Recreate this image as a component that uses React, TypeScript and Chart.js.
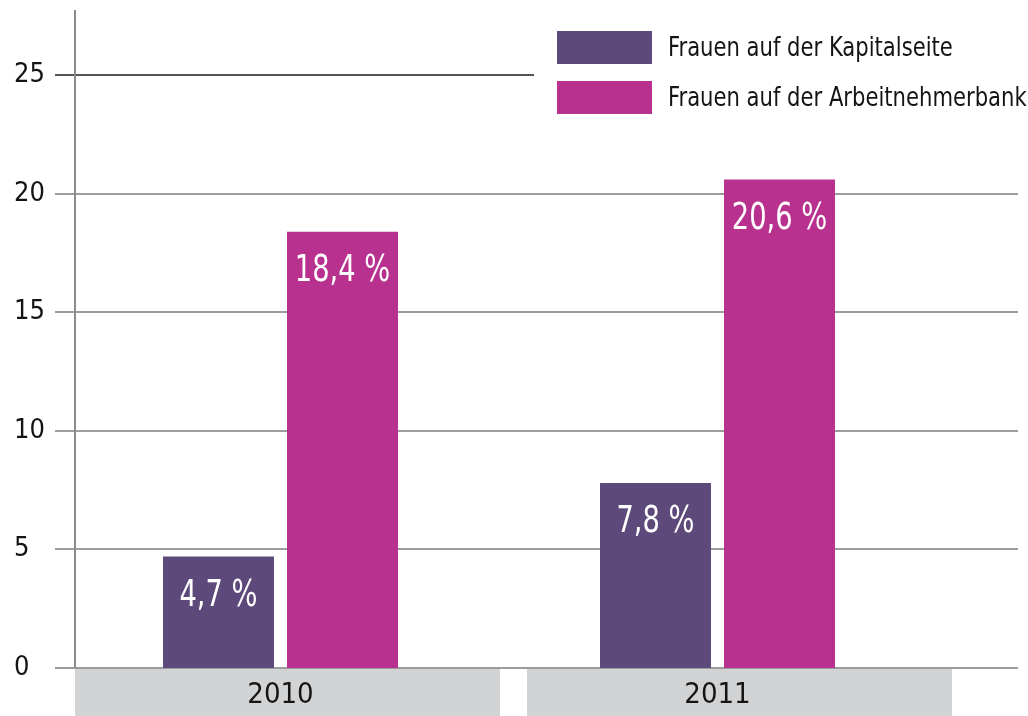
import { useEffect, useRef } from 'react';
import { Chart, registerables } from 'chart.js';

Chart.register(...registerables);

// ---- data ----
const categories = ['2010', '2011'];
const seriesNames = ['Frauen auf der Kapitalseite', 'Frauen auf der Arbeitnehmerbank'];
const kapitalseite = [4.7, 7.8];
const arbeitnehmerbank = [18.4, 20.6];
const yTickValues = [0, 5, 10, 15, 20, 25];

// ---- style ----
const seriesColors = ['#5e4a7a', '#b8318f'];
const FONT = "'Liberation Sans Narrow', 'DejaVu Sans Condensed', 'Roboto Condensed', Roboto, sans-serif";
const TEXT = '#141414';
const W = 1028;
const H = 716;
const AXIS_X = 75;
const GRID_LEFT = 55;
const GRID_RIGHT = 1018;
const BAND_LEFT = 75;
const BAND_RIGHT = 952;
const BAND_GAP = 27;
const LEGEND_X = 557;
const LEGEND_Y = 31;
const LEGEND_BOX_W = 95;
const LEGEND_BOX_H = 33;
const LEGEND_ROW = 50;
const LEGEND_TEXT_X = 668;
const CONDENSE = 0.87;

const fmt = (v: number) => v.toFixed(1).replace('.', ',') + ' %';

function condensedText(ctx: CanvasRenderingContext2D, text: string, x: number, y: number, k: number) {
  ctx.save();
  ctx.translate(x, y);
  ctx.scale(k, 1);
  ctx.fillText(text, 0, 0);
  ctx.restore();
}

const decorPlugin = {
  id: 'decor',
  beforeDraw(chart: any) {
    const { ctx, chartArea, scales } = chart;
    const y = scales.y;
    ctx.save();
    // category bands
    const n = categories.length;
    const bw = (BAND_RIGHT - BAND_LEFT - BAND_GAP * (n - 1)) / n;
    ctx.fillStyle = '#d2d3d5';
    for (let i = 0; i < n; i++) {
      ctx.fillRect(BAND_LEFT + i * (bw + BAND_GAP), chartArea.bottom + 1, bw, H - chartArea.bottom - 1);
    }
    // gridlines
    ctx.lineWidth = 2;
    y.ticks.forEach((t: any, idx: number) => {
      const py = Math.round(y.getPixelForValue(t.value));
      const isTop = idx === y.ticks.length - 1;
      ctx.strokeStyle = isTop ? '#555555' : '#9c9c9c';
      ctx.beginPath();
      ctx.moveTo(GRID_LEFT, py);
      ctx.lineTo(GRID_RIGHT, py);
      ctx.stroke();
    });
    // clear legend zone
    ctx.fillStyle = '#ffffff';
    ctx.fillRect(LEGEND_X - 23, LEGEND_Y - 10, W - (LEGEND_X - 23), LEGEND_ROW * 2 + 10);
    // y axis line
    ctx.strokeStyle = '#8c8c8c';
    ctx.beginPath();
    ctx.moveTo(AXIS_X, chartArea.top);
    ctx.lineTo(AXIS_X, chartArea.bottom);
    ctx.stroke();
    ctx.restore();
  },
  afterDatasetsDraw(chart: any) {
    const { ctx } = chart;
    ctx.save();
    // value labels
    ctx.fillStyle = '#ffffff';
    ctx.font = `37px ${FONT}`;
    ctx.textAlign = 'center';
    ctx.textBaseline = 'alphabetic';
    chart.data.datasets.forEach((ds: any, di: number) => {
      const meta = chart.getDatasetMeta(di);
      meta.data.forEach((bar: any, i: number) => {
        condensedText(ctx, fmt(ds.data[i]), bar.x, bar.y + 49, 0.82);
      });
    });
    // legend
    ctx.font = `27px ${FONT}`;
    ctx.textAlign = 'left';
    ctx.textBaseline = 'middle';
    chart.data.datasets.forEach((ds: any, di: number) => {
      const top = LEGEND_Y + di * LEGEND_ROW;
      ctx.fillStyle = ds.backgroundColor;
      ctx.fillRect(LEGEND_X, top, LEGEND_BOX_W, LEGEND_BOX_H);
      ctx.fillStyle = TEXT;
      condensedText(ctx, ds.label, LEGEND_TEXT_X, top + LEGEND_BOX_H / 2 + 1, CONDENSE);
    });
    ctx.restore();
  },
};

export default function App() {
  const ref = useRef<HTMLCanvasElement | null>(null);
  useEffect(() => {
    if (!ref.current) return;
    const chart = new Chart(ref.current, {
      type: 'bar',
      data: {
        labels: categories,
        datasets: [
          {
            label: seriesNames[0],
            data: kapitalseite,
            backgroundColor: seriesColors[0],
            borderWidth: 0,
            categoryPercentage: 0.5675,
            barPercentage: 0.895,
          },
          {
            label: seriesNames[1],
            data: arbeitnehmerbank,
            backgroundColor: seriesColors[1],
            borderWidth: 0,
            categoryPercentage: 0.5675,
            barPercentage: 0.895,
          },
        ],
      },
      options: {
        responsive: false,
        animation: false,
        events: [],
        layout: { padding: { left: 14, right: 92, top: 10, bottom: 0 } },
        plugins: {
          legend: { display: false },
          tooltip: { enabled: false },
        },
        scales: {
          x: {
            grid: { display: false, drawTicks: false },
            border: { display: false },
            ticks: {
              color: TEXT,
              font: { family: FONT, size: 29 },
              padding: 10,
            },
            afterFit: (s: any) => {
              s.height = H - 668;
              s.paddingLeft = 0;
              s.paddingRight = 0;
            },
          },
          y: {
            min: 0,
            max: 27.75,
            grid: { display: false, drawTicks: false },
            border: { display: false },
            ticks: {
              color: TEXT,
              font: { family: FONT, size: 27 },
              crossAlign: 'far',
              padding: 0,
              includeBounds: false,
            },
            afterBuildTicks: (s: any) => {
              s.ticks = yTickValues.map((v) => ({ value: v }));
            },
            afterFit: (s: any) => {
              s.width = 48;
              s.paddingTop = 0;
              s.paddingBottom = 0;
            },
          },
        },
      },
      plugins: [decorPlugin],
    });
    return () => chart.destroy();
  }, []);
  return (
    <div style={{ position: 'absolute', left: 0, top: 0, width: W, height: H, background: '#fff' }}>
      <canvas ref={ref} width={W} height={H} style={{ display: 'block' }} />
    </div>
  );
}
